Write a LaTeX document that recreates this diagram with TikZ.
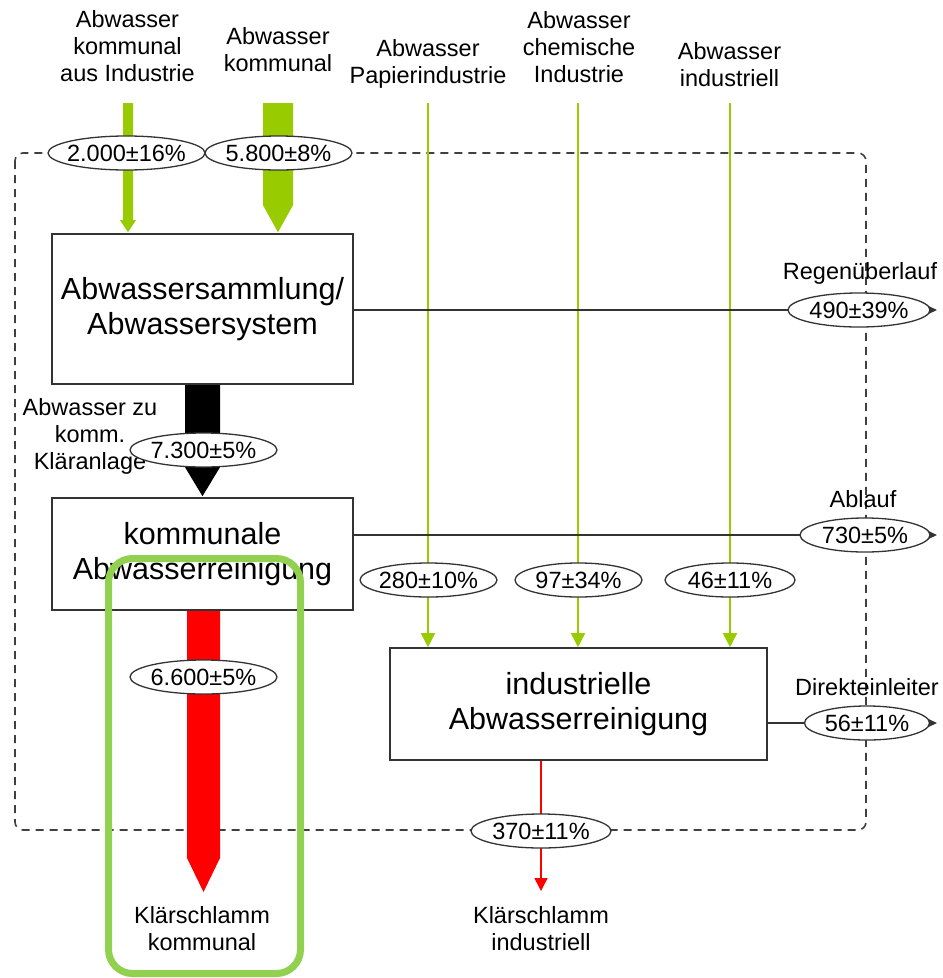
\documentclass[tikz,border=0pt]{standalone}
\usepackage{fontspec}
\setmainfont{Liberation Sans}
\usetikzlibrary{shapes.geometric,arrows.meta,calc,backgrounds}
\definecolor{leaf}{HTML}{99CC00}
\definecolor{frame}{HTML}{92D050}
\definecolor{ink}{HTML}{333333}
\definecolor{dash}{HTML}{404040}
\begin{document}
\begin{tikzpicture}[x=1pt,y=-1pt,
  proc/.style={draw=ink,line width=1.6pt,fill=white,align=center,
    font=\fontsize{30.5}{35}\selectfont,inner sep=0},
  lbl/.style={align=center,font=\fontsize{23.5}{27}\selectfont,inner sep=0},
  flow/.style={ellipse,draw=ink,line width=1.3pt,fill=white,minimum height=34pt,
    inner xsep=-12pt,inner ysep=0pt,font=\fontsize{23.5}{27}\selectfont},
  thinleaf/.style={draw=leaf,line width=1.6pt,-{Triangle[length=14pt,width=14pt]}},
  outflow/.style={draw=ink,line width=1.4pt,-{Triangle[length=11pt,width=10pt]}},
  sludge/.style={draw=red,line width=1.5pt,-{Triangle[length=13pt,width=13pt]}},
  balance/.style={draw=dash,line width=1.6pt,dash pattern=on 8pt off 6pt,rounded corners=8pt},
  highlight/.style={draw=frame,line width=7pt,rounded corners=24pt}
]
\useasboundingbox (0,0) rectangle (943,978);

% process boxes
\node[proc,minimum width=301pt,minimum height=150pt] (b1) at (202.5,309)
  {Abwassersammlung/\\Abwassersystem};
\node[proc,minimum width=301pt,minimum height=112pt] (b2) at (202.5,554)
  {kommunale\\Abwasserreinigung};
\node[proc,minimum width=377pt,minimum height=112pt] (b3) at (578.5,704)
  {industrielle\\Abwasserreinigung};

% source labels
\node[lbl] (l1) at (127.5,46) {Abwasser\\kommunal\\aus Industrie};
\node[lbl] (l2) at (278,50) {Abwasser\\kommunal};
\node[lbl] (l3) at (428,64) {Abwasser\\Papierindustrie};
\node[lbl] (l4) at (579,47) {Abwasser\\chemische\\Industrie};
\node[lbl] (l5) at (729.5,65) {Abwasser\\industriell};
\coordinate (s1) at (128,103);
\coordinate (s2) at (278,103);
\coordinate (s3) at (428,103);
\coordinate (s4) at (578,103);
\coordinate (s5) at (730,103);

% sink labels
\node[lbl] (kk) at (202,929) {Klärschlamm\\kommunal};
\node[lbl] (ki) at (541,929) {Klärschlamm\\industriell};
\coordinate (k1) at (203.5,892);
\coordinate (k2) at (541,891);
\node[lbl] (zu) at (90,436) {Abwasser zu\\komm.\\Kläranlage};

% flow values
\node[flow,minimum width=157pt] (e1) at (126.5,153) {2.000±16\%};
\node[flow,minimum width=147pt] (e2) at (278.5,153) {5.800±8\%};
\node[flow,minimum width=147pt] (e7) at (203.5,450) {7.300±5\%};
\node[flow,minimum width=147pt] (e66) at (203.5,677) {6.600±5\%};
\node[flow,minimum width=137pt] (e280) at (428.5,580) {280±10\%};
\node[flow,minimum width=127pt] (e97) at (578.5,580) {97±34\%};
\node[flow,minimum width=130pt] (e46) at (730,580) {46±11\%};
\node[flow,minimum width=140pt] (e370) at (541,831) {370±11\%};
\node[flow,minimum width=142pt] (e490) at (859,310) {490±39\%};
\node[flow,minimum width=130pt] (e730) at (865,535) {730±5\%};
\node[flow,minimum width=125pt] (e56) at (867,723) {56±11\%};

% outflow labels and ends
\node[lbl] (rg) at (860,273) {Regenüberlauf};
\node[lbl] (ab) at (863,499) {Ablauf};
\node[lbl] (di) at (867,687) {Direkteinleiter};
\coordinate (t490) at (937,310);
\coordinate (t730) at (937,535);
\coordinate (t56) at (937,723);

\begin{pgfonlayer}{background}
  % system boundary
  \draw[balance] (15,153) rectangle (866,830);

  % inflows from industry to industrial treatment
  \draw[thinleaf] (s3) -- (s3 |- b3.north);
  \draw[thinleaf] (s4) -- (s4 |- b3.north);
  \draw[thinleaf] (s5) -- (s5 |- b3.north);

  % outflows to the right
  \draw[outflow] (b1.east |- e490) -- (t490);
  \draw[outflow] (b2.east |- e730) -- (t730);
  \draw[outflow] (b3.east |- e56) -- (t56);

  % industrial sludge
  \draw[sludge] (e370 |- b3.south) -- (k2);

  % broad flows
  \fill[leaf] ($(s1)+(-5,0)$) -- ($(s1)+(5,0)$) -- ($(s1 |- b1.north)+(5,-13)$)
    -- ($(s1 |- b1.north)+(8,-13)$) -- ($(s1 |- b1.north)+(0,-1)$)
    -- ($(s1 |- b1.north)+(-8,-13)$) -- ($(s1 |- b1.north)+(-5,-13)$) -- cycle;
  \fill[leaf] ($(s2)+(-15,0)$) -- ($(s2)+(15,0)$) -- ($(s2 |- b1.north)+(15,-28)$)
    -- ($(s2 |- b1.north)+(0,-1)$) -- ($(s2 |- b1.north)+(-15,-28)$) -- cycle;
  \fill[black] ($(b1.south)+(-17.5,0)$) -- ($(b1.south)+(17.5,0)$)
    -- ($(b2.north)+(17.5,-30)$) -- ($(b2.north)+(0,-1)$)
    -- ($(b2.north)+(-17.5,-30)$) -- cycle;
  \fill[red] ($(b2.south -| k1)+(-16.5,0)$) -- ($(b2.south -| k1)+(16.5,0)$)
    -- ($(k1)+(16.5,-34)$) -- (k1) -- ($(k1)+(-16.5,-34)$) -- cycle;
\end{pgfonlayer}

% highlighted municipal sludge path
\draw[highlight] (108.5,558.5) rectangle (300.5,973.5);
\end{tikzpicture}
\end{document}
